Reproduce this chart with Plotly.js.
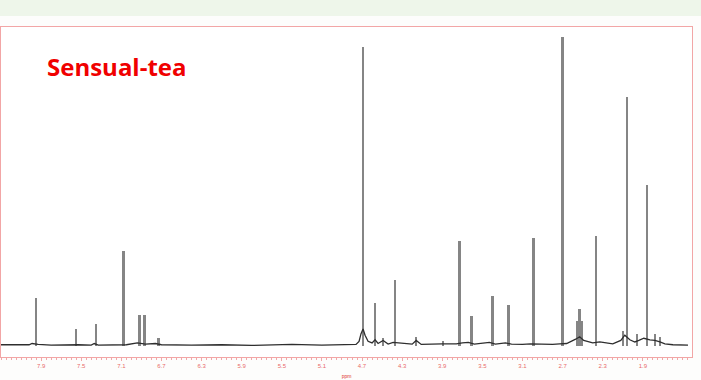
<!DOCTYPE html>
<html>
<head>
<meta charset="utf-8">
<script src="https://cdn.plot.ly/plotly-3.0.1.min.js"></script>
<style>html,body{margin:0;padding:0;background:#fdfdfc;}#chart{width:701px;height:380px;}</style>
</head>
<body>
<div id="chart"></div>
<script>
// Peak positions (ppm) and intensities
const peakPpm = [7.95, 7.55, 7.35, 7.08, 6.92, 6.87, 6.73, 4.69, 4.57, 4.49, 4.37, 4.16, 3.89, 3.73, 3.61, 3.40, 3.24, 2.99, 2.70, 2.555, 2.53, 2.505, 2.37, 2.10, 2.06, 1.96, 1.86, 1.78, 1.73];
const peakHeight = [15.5, 5.5, 7.0, 30.7, 10.0, 10.0, 2.5, 96.8, 14.0, 2.6, 21.4, 3.0, 1.5, 34.0, 9.7, 16.2, 13.3, 35.0, 100.0, 8.0, 12.0, 8.0, 35.6, 5.0, 80.6, 4.0, 52.0, 4.0, 3.0];

// Baseline trace of the spectrum
const baseX = [8.30, 8.02, 7.99, 7.96, 7.93, 7.80, 7.57, 7.53, 7.40, 7.37, 7.33, 7.11, 7.05, 6.94, 6.86, 6.76, 6.70, 6.40, 6.10, 5.80, 5.45, 5.40, 5.10, 4.85, 4.76, 4.73, 4.71, 4.69, 4.67, 4.64, 4.60, 4.57, 4.54, 4.49, 4.44, 4.39, 4.34, 4.20, 4.16, 4.11, 3.90, 3.76, 3.70, 3.64, 3.58, 3.43, 3.37, 3.27, 3.21, 3.10, 3.02, 2.96, 2.80, 2.73, 2.66, 2.57, 2.53, 2.49, 2.40, 2.33, 2.20, 2.12, 2.08, 2.03, 1.98, 1.94, 1.89, 1.83, 1.78, 1.73, 1.68, 1.60, 1.45];
const baseY  = [0.4, 0.4, 0.8, 0.6, 0.5, 0.3, 0.5, 0.4, 0.3, 0.8, 0.3, 0.5, 0.4, 1.0, 0.6, 0.8, 0.4, 0.3, 0.4, 0.2, 0.3, 0.5, 0.3, 0.3, 0.5, 1.5, 4.0, 5.5, 3.5, 1.5, 1.0, 2.0, 0.8, 1.8, 0.6, 1.2, 1.0, 0.6, 1.8, 0.5, 0.7, 0.7, 1.0, 1.2, 0.6, 1.2, 0.6, 1.0, 0.6, 0.5, 0.7, 0.6, 0.5, 0.7, 0.8, 2.2, 3.0, 1.8, 1.0, 1.3, 0.7, 1.8, 3.5, 2.0, 1.3, 1.8, 2.5, 2.0, 1.8, 1.3, 0.7, 0.4, 0.3];

const tickVals = [7.9, 7.5, 7.1, 6.7, 6.3, 5.9, 5.5, 5.1, 4.7, 4.3, 3.9, 3.5, 3.1, 2.7, 2.3, 1.9];
const tickText = ['7.9', '7.5', '7.1', '6.7', '6.3', '5.9', '5.5', '5.1', '4.7', '4.3', '3.9', '3.5', '3.1', '2.7', '2.3', '1.9'];

const frameColor = '#f2a6a6';

const traces = [
  {
    type: 'bar', x: peakPpm, y: peakHeight, width: 0.024,
    marker: {color: '#858585', line: {width: 0}},
    hoverinfo: 'x+y', showlegend: false
  },
  {
    type: 'scatter', mode: 'lines', x: baseX, y: baseY,
    line: {color: '#2e2e2e', width: 1.3},
    hoverinfo: 'skip', showlegend: false
  }
];

const layout = {
  width: 701, height: 380,
  margin: {l: 1, r: 9, t: 27, b: 23, pad: 0},
  paper_bgcolor: '#fdfdfc',
  plot_bgcolor: '#ffffff',
  bargap: 0,
  title: {
    text: '<b>Sensual-tea</b>',
    x: 47/701, xanchor: 'left', xref: 'container',
    y: 1 - 68/380, yanchor: 'middle', yref: 'container',
    font: {family: 'Open Sans, Arial, sans-serif', size: 24, color: '#f00000'}
  },
  xaxis: {
    range: [8.30, 1.41],
    tickmode: 'array', tickvals: tickVals, ticktext: tickText,
    ticks: 'outside', ticklen: 3, tickcolor: frameColor, tickwidth: 1,
    minor: {dtick: 0.05, ticks: 'outside', ticklen: 2, tickcolor: frameColor},
    tickfont: {family: 'Arial, sans-serif', size: 6, color: '#e86a6a'},
    showline: true, mirror: true, linecolor: frameColor, linewidth: 1,
    showgrid: false, zeroline: false,
    title: {text: 'ppm', font: {family: 'Arial, sans-serif', size: 5, color: '#e03030'}, standoff: 6}
  },
  yaxis: {
    range: [-3.56, 103.2],
    showticklabels: false, ticks: '',
    showline: true, mirror: true, linecolor: frameColor, linewidth: 1,
    showgrid: false, zeroline: false
  },
  shapes: [
    {type: 'rect', xref: 'paper', yref: 'paper', x0: -0.01, x1: 1.02, y0: 1.0333, y1: 1.09,
     fillcolor: '#eef6ea', line: {width: 0}, layer: 'below'}
  ]
};

Plotly.newPlot('chart', traces, layout, {displayModeBar: false, staticPlot: true});
</script>
</body>
</html>
